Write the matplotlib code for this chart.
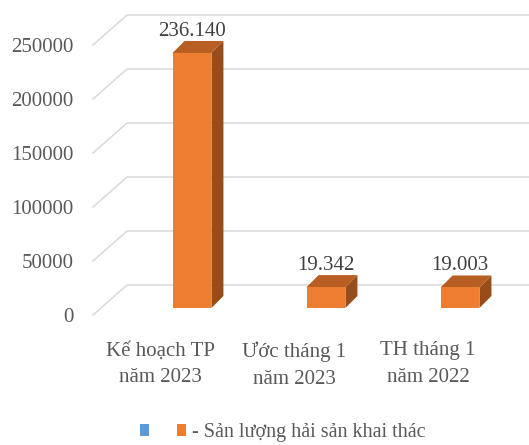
import matplotlib
matplotlib.use("Agg")
import matplotlib.pyplot as plt
import matplotlib.transforms as mtransforms
from matplotlib.patches import Polygon, Patch
from matplotlib.lines import Line2D

plt.rcParams['font.family'] = ['Liberation Serif', 'DejaVu Serif']

categories = ["Kế hoạch TP\nnăm 2023", "Ước tháng 1\nnăm 2023", "TH tháng 1\nnăm 2022"]
values = [236140, 19342, 19003]
value_labels = ["236.140", "19.342", "19.003"]
y_ticks = [0, 50000, 100000, 150000, 200000, 250000]
series_name = "- Sản lượng hải sản khai thác"

front_col = '#ED7D31'
top_col = '#B85E22'
side_col = '#974C19'
grid_col = '#D9D9D9'
text_col = '#595959'

W, H = 529, 445
fig = plt.figure(figsize=(W / 100, H / 100), dpi=100)
ax = fig.add_axes([93 / W, 130 / H, 402 / W, 270 / H])
ax.set_xlim(-0.5, 2.5)
ax.set_ylim(0, 250000)
for s in ax.spines.values():
    s.set_visible(False)
ax.patch.set_visible(False)

ax.set_yticks(y_ticks)
ax.set_yticklabels([str(t) for t in y_ticks])
ax.set_xticks(range(len(categories)))
ax.set_xticklabels(categories, linespacing=1.55)
ax.tick_params(axis='y', length=0, pad=14, labelsize=15, labelcolor=text_col)
ax.tick_params(axis='x', length=0, pad=19, labelsize=15, labelcolor=text_col)

ident = mtransforms.IdentityTransform()


def px(x, y):
    return ax.transData.transform((x, y))


# back wall: depth offset of the chart box, in pixels
wall_dx, wall_dy = 34, 30
for t in y_ticks:
    fx, fy = px(-0.5, t)
    bx, by = fx + wall_dx, fy + wall_dy
    ax.add_line(Line2D([fx, bx, W + 5], [fy, by, by], color=grid_col, lw=1.1,
                       transform=ident, clip_on=False, zorder=1))

# 3d columns
bar_w = 0.29
shift_x, shift_y = 32, 7
depth = 12
for i, v in enumerate(values):
    x0, y0 = px(i - bar_w / 2, 0)
    x1, y1 = px(i + bar_w / 2, v)
    x0 += shift_x; x1 += shift_x
    y0 += shift_y; y1 += shift_y
    front = [(x0, y0), (x1, y0), (x1, y1), (x0, y1)]
    top = [(x0, y1), (x1, y1), (x1 + depth, y1 + depth), (x0 + depth, y1 + depth)]
    side = [(x1, y0), (x1 + depth, y0 + depth), (x1 + depth, y1 + depth), (x1, y1)]
    for pts, c in [(side, side_col), (top, top_col), (front, front_col)]:
        ax.add_patch(Polygon(pts, closed=True, facecolor=c, edgecolor='none',
                             transform=ident, clip_on=False, zorder=3))
    ax.text((x0 + x1) / 2, y1 + depth + 5, value_labels[i], transform=ident,
            ha='center', va='baseline', fontsize=15, color='#404040', zorder=4)

handles = [Patch(facecolor='#5B9BD5'), Patch(facecolor=front_col)]
fig.legend(handles, ["", series_name], loc='center', bbox_to_anchor=(0.535, 0.027),
           ncol=2, frameon=False, fontsize=14.5, labelcolor=text_col,
           handlelength=0.45, handleheight=0.55, handletextpad=0.3, columnspacing=1.1,
           borderaxespad=0, borderpad=0)

fig.savefig("out.png", dpi=100)
